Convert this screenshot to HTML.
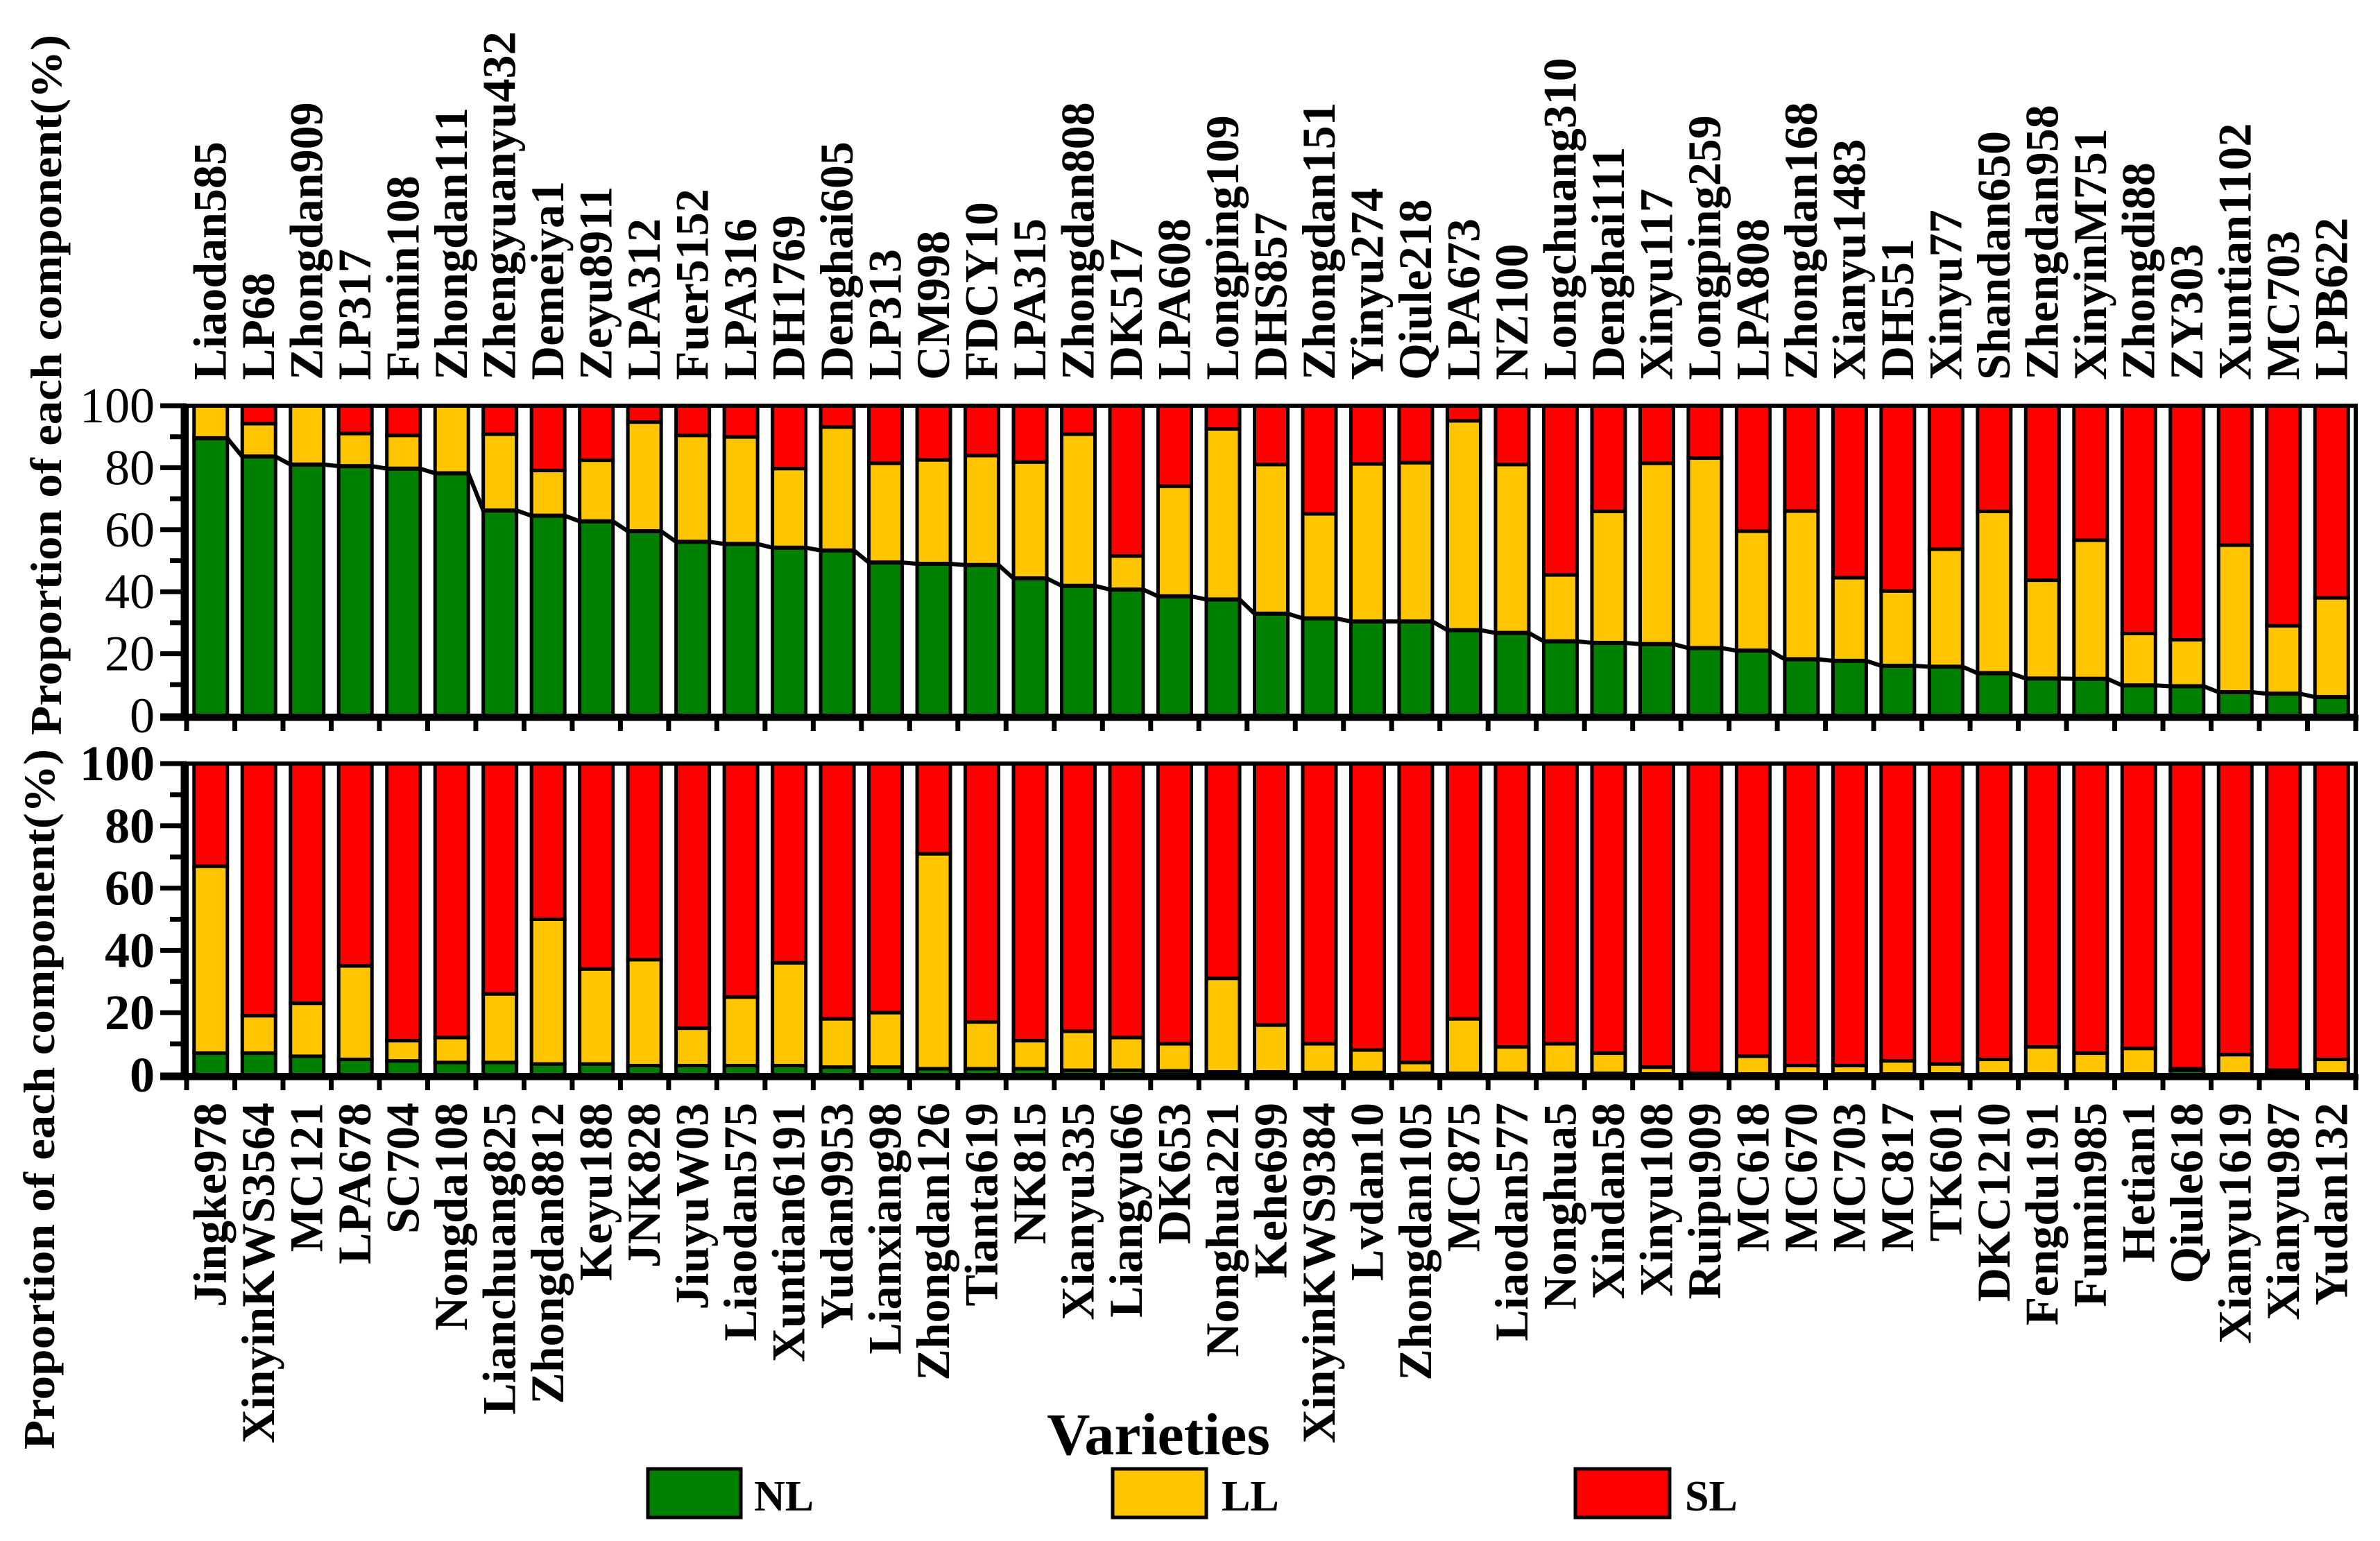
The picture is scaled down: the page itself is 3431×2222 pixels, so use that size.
<!DOCTYPE html>
<html><head><meta charset="utf-8"><style>
html,body{margin:0;padding:0;background:#fff;}
svg{display:block;}
svg text{font-family:"Liberation Serif","Times New Roman",serif;}
</style></head><body>
<svg id="chart" width="3431" height="2222" viewBox="0 0 3431 2222" xmlns="http://www.w3.org/2000/svg" font-family="Liberation Serif, serif">
<g id="top"></g>
<g id="bot"></g>
<text x="0" y="0" transform="translate(88,555) rotate(-90)" text-anchor="middle" font-weight="bold" font-size="64" textLength="1010" lengthAdjust="spacingAndGlyphs">Proportion of each component(%)</text>
<text x="0" y="0" transform="translate(78,1585) rotate(-90)" text-anchor="middle" font-weight="bold" font-size="64" textLength="1010" lengthAdjust="spacingAndGlyphs">Proportion of each component(%)</text>
<text x="1670" y="2097" text-anchor="middle" font-weight="bold" font-size="86">Varieties</text>
<g>
<rect x="934" y="2118" width="134" height="70" fill="#008000" stroke="#000" stroke-width="5"/>
<text x="1087" y="2178" font-weight="bold" font-size="62">NL</text>
<rect x="1604" y="2118" width="135" height="70" fill="#ffc600" stroke="#000" stroke-width="5"/>
<text x="1761" y="2178" font-weight="bold" font-size="62">LL</text>
<text x="2429" y="2178" font-weight="bold" font-size="62">SL</text>
<rect x="2271" y="2118" width="136" height="70" fill="#ff0000" stroke="#000" stroke-width="5"/>
</g>
</svg>
<script>
const topNames = ["Liaodan585","LP68","Zhongdan909","LP317","Fumin108","Zhongdan111","Zhengyuanyu432","Demeiya1","Zeyu8911","LPA312","Fuer5152","LPA316","DH1769","Denghai605","LP313","CM998","FDCY10","LPA315","Zhongdan808","DK517","LPA608","Longping109","DHS857","Zhongdan151","Yinyu274","Qiule218","LPA673","NZ100","Longchuang310","Denghai111","Xinyu117","Longping259","LPA808","Zhongdan168","Xianyu1483","DH551","Xinyu77","Shandan650","Zhengdan958","XinyinM751","Zhongdi88","ZY303","Xuntian1102","MC703","LPB622"];
const topNL = [89.5,83.6,81,80.5,79.7,78.2,66.2,64.5,62.7,59.5,56.1,55.4,54.2,53.3,49.4,49,48.6,44.3,41.9,40.7,38.5,37.5,32.9,31.4,30.4,30.4,27.6,26.7,24,23.5,23.1,21.8,21,18.2,17.7,16.1,15.8,13.7,12,11.9,9.8,9.5,7.6,7.1,6];
const topNLLL = [100,94.2,100,91,90.4,100,90.8,79.1,82.4,94.7,90.4,89.9,79.7,93.1,81.4,82.5,83.9,81.8,90.8,51.5,74,92.5,81,65.1,81.2,81.6,95.1,81,45.4,65.9,81.4,83.1,59.5,66,44.5,40.2,53.7,65.9,43.7,56.6,26.5,24.5,55,29,38];
const botNames = ["Jingke978","XinyinKWS3564","MC121","LPA678","SC704","Nongda108","Lianchuang825","Zhongdan8812","Keyu188","JNK828","JiuyuW03","Liaodan575","Xuntian6191","Yudan9953","Lianxiang98","Zhongdan126","Tianta619","NK815","Xianyu335","Liangyu66","DK653","Nonghua221","Kehe699","XinyinKWS9384","Lvdan10","Zhongdan105","MC875","Liaodan577","Nonghua5","Xindan58","Xinyu108","Ruipu909","MC618","MC670","MC703","MC817","TK601","DKC1210","Fengdu191","Fumin985","Hetian1","Qiule618","Xianyu1619","Xianyu987","Yudan132"];
const botNL = [7,7,6,5,4.5,4,4,3.5,3.5,3,3,3,3,2.5,2.5,2,2,2,1.5,1.5,1.3,1,1,0.8,0.8,0.5,0.5,0.5,0.5,0.5,0.3,0.3,0.3,0.3,0.3,0.3,0.3,0.3,0.3,0.3,0.3,1.5,0.3,0.5,0.3];
const botNLLL = [67,19,23,35,11,12,26,50,34,37,15,25,36,18,20,71,17,11,14,12,10,31,16,10,8,4,18,9,10,7,2.5,0.5,6,3,3,4.5,3.5,5,9,7,8.5,2,6.5,1.5,5];
const yTicks = [0,20,40,60,80,100];

const NS = "http://www.w3.org/2000/svg";
const X0 = 269, X1 = 3396;
const FF = '"Liberation Serif", serif';
function mk(parent, tag, attrs){const e=document.createElementNS(NS,tag);for(const k in attrs)e.setAttribute(k,attrs[k]);parent.appendChild(e);return e;}

function drawPanel(g, names, nl, nlll, yTop, yBot, labelsTop, drawLine, boldTicks){
  const n = names.length, pitch = (X1-X0)/n, bw = 48;
  const y = v => yBot - (yBot-yTop)*v/100;
  const xc = i => X0 + pitch*(i+0.5);
  for(let i=0;i<n;i++){
    const l = xc(i)-bw/2;
    const r = mk(g,'rect',{x:l,y:y(100),width:bw,height:y(nlll[i])-y(100),fill:'#ff0000',stroke:'#000','stroke-width':5});
    
    
    const yl = mk(g,'rect',{x:l,y:y(nlll[i]),width:bw,height:y(nl[i])-y(nlll[i]),fill:'#ffc600',stroke:'#000','stroke-width':5});
    
    
    const gr = mk(g,'rect',{x:l,y:y(nl[i]),width:bw,height:yBot-y(nl[i]),fill:'#008000',stroke:'#000','stroke-width':5});
    
    
    const t = mk(g,'text',{'font-size':68,'font-weight':'bold','font-family':FF});
    t.textContent = names[i];
    if(labelsTop){
      t.setAttribute('transform','translate('+(xc(i)+22)+',548) rotate(-90)');
      t.setAttribute('text-anchor','start');
    } else {
      t.setAttribute('transform','translate('+(xc(i)+22)+','+(yBot+40)+') rotate(-90)');
      t.setAttribute('text-anchor','end');
    }
    
    
  }
  if(drawLine){
    let pts=[];
    for(let i=0;i<n;i++){pts.push((xc(i)-bw/2)+','+y(nl[i]));pts.push((xc(i)+bw/2)+','+y(nl[i]));}
    const pl = mk(g,'polyline',{points:pts.join(' '),fill:'none',stroke:'#000','stroke-width':6});
    
    
  }
  const frame = mk(g,'rect',{x:X0,y:yTop,width:X1-X0,height:yBot-yTop,fill:'none',stroke:'#000','stroke-width':6});
  
  
  const ax = mk(g,'line',{x1:X0-4,y1:yTop,x2:X0-4,y2:yBot+4,stroke:'#000','stroke-width':9});
  
  
  const bx = mk(g,'line',{x1:X0-38,y1:yBot+3,x2:X1+4,y2:yBot+3,stroke:'#000','stroke-width':9});
  
  
  for(let k=0;k<=n;k++){
    const xt = X0+pitch*k;
    const tk = mk(g,'line',{x1:xt,y1:yBot+3,x2:xt,y2:yBot+22,stroke:'#000','stroke-width':7});
    
    
  }
  for(let v=0; v<=100; v+=10){
    const major = v%20===0;
    const tk = mk(g,'line',{x1:X0-(major?38:24),y1:y(v),x2:X0,y2:y(v),stroke:'#000','stroke-width':7});
    
    
  }
  yTicks.forEach(v=>{
    const t = mk(g,'text',{x:X0-46,y:y(v)+24,'text-anchor':'end','font-size':72,'font-family':FF,'font-weight':boldTicks?'bold':'normal'});
    t.textContent = v;
    
    
  });
}
drawPanel(document.getElementById('top'), topNames, topNL, topNLLL, 585, 1032, true, true, false);
drawPanel(document.getElementById('bot'), botNames, botNL, botNLLL, 1101, 1550, false, false, true);
</script>
</body></html>
